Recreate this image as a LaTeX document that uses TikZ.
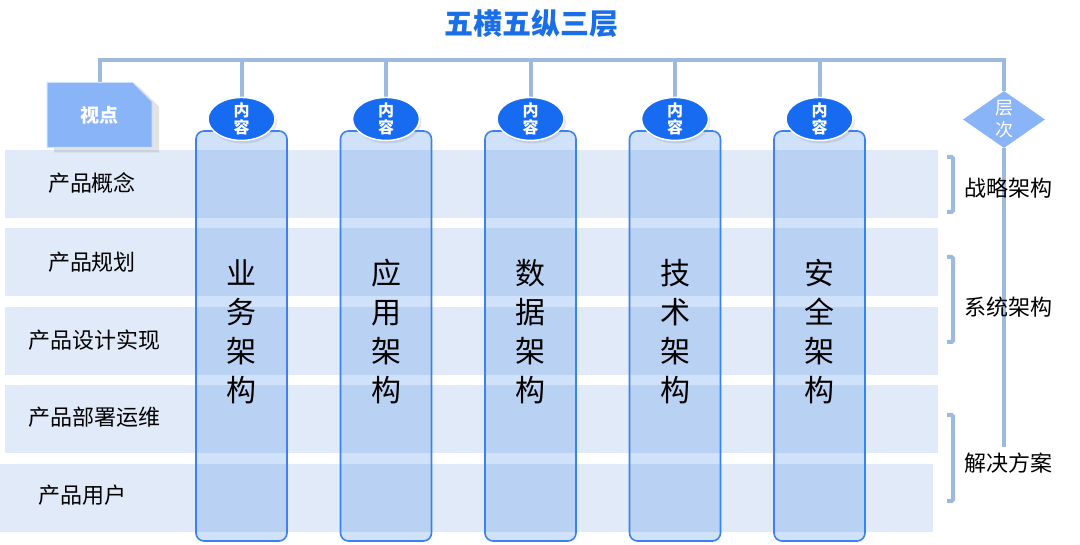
\documentclass[tikz,border=0pt]{standalone}
\usepackage{fontspec}
\setmainfont{Noto Sans CJK SC}
\usetikzlibrary{
	positioning,
	shapes.geometric,
	shapes.misc,
	shadows,
	calc,
	backgrounds
}
\definecolor{titleblue}{HTML}{1A6FE8}
\definecolor{ovalblue}{HTML}{176BF0}
\definecolor{softblue}{HTML}{8AB4F8}
\definecolor{rowblue}{HTML}{E0EAF8}
\definecolor{pillarfill}{HTML}{629BEE}
\definecolor{pillarline}{HTML}{3B82F0}
\definecolor{barblue}{HTML}{9DB9DD}

\begin{document}
\begin{tikzpicture}[x=1pt, y=-1pt,
        layer/.style={rectangle, fill=rowblue, minimum width=933pt, minimum height=68pt, inner sep=0pt},
        rowtext/.style={font=\fontsize{22}{22}\selectfont, inner sep=0pt},
        pillar/.style={rectangle, rounded corners=8pt, draw=pillarline, line width=1.6pt, fill=pillarfill, fill opacity=0.3, minimum width=91pt, minimum height=410pt, inner sep=0pt},
        pillartext/.style={align=center, font=\fontsize{30}{39}\selectfont, inner sep=0pt},
        tagoval/.style={ellipse, fill=ovalblue, draw=white, line width=1.5pt, minimum width=67pt, minimum height=43pt, inner xsep=0pt, inner ysep=-2pt, text=white, align=center, font=\fontsize{16}{17.5}\selectfont\bfseries, drop shadow={shadow xshift=2pt, shadow yshift=-3pt, opacity=0.2}},
        viewbox/.style={chamfered rectangle, chamfered rectangle corners=north east, chamfered rectangle xsep=11pt, chamfered rectangle ysep=10pt, fill=softblue, draw=white!60!softblue, line width=1pt, minimum width=105pt, minimum height=65pt, inner sep=0pt, text=white, font=\fontsize{19}{19}\selectfont\bfseries, drop shadow={shadow xshift=7pt, shadow yshift=-5pt, opacity=0.22}},
        tier/.style={diamond, fill=softblue, minimum width=82pt, minimum height=57pt, inner sep=0pt, text=white, align=center, font=\fontsize{18}{22}\selectfont},
        sidetext/.style={font=\fontsize{22}{22}\selectfont, inner sep=0pt},
        bar/.style={draw=barblue, line width=4pt},
        hook/.style={draw=barblue, line width=4pt, rounded corners=1.5pt}
    ]
        \useasboundingbox (0,0) rectangle (1080,545);

        \node[font=\fontsize{29}{29}\selectfont\bfseries, text=titleblue] (title) at (531,24) {五横五纵三层};

        % horizontal layers
        \node[layer] (r1) at (471.5,184) {};
        \node[layer, below=10pt of r1] (r2) {};
        \node[layer, below=10pt of r2] (r3) {};
        \node[layer, below=10pt of r3] (r4) {};
        \node[layer, below=10pt of r4, xshift=-5pt] (r5) {};

        \node[rowtext] (p1) at (92,183) {产品概念};
        \node[rowtext] (p2) at (92,262) {产品规划};
        \node[rowtext] (p3) at (94.5,340) {产品设计实现};
        \node[rowtext] (p4) at (94.5,417) {产品部署运维};
        \node[rowtext] (p5) at (82,495) {产品用户};

        % vertical pillars
        \node[pillar] (c1) at (241.5,336) {};
        \node[pillar] (c2) at (386,336) {};
        \node[pillar] (c3) at (530.5,336) {};
        \node[pillar] (c4) at (675,336) {};
        \node[pillar] (c5) at (819.5,336) {};

        \node[pillartext] (w1) at ([yshift=4.5pt]c1.center) {业\\务\\架\\构};
        \node[pillartext] (w2) at ([yshift=4.5pt]c2.center) {应\\用\\架\\构};
        \node[pillartext] (w3) at ([yshift=4.5pt]c3.center) {数\\据\\架\\构};
        \node[pillartext] (w4) at ([yshift=4.5pt]c4.center) {技\\术\\架\\构};
        \node[pillartext] (w5) at ([yshift=4.5pt]c5.center) {安\\全\\架\\构};

        \node[tagoval, above=-11pt of c1.north] (o1) {内\\容};
        \node[tagoval, above=-11pt of c2.north] (o2) {内\\容};
        \node[tagoval, above=-11pt of c3.north] (o3) {内\\容};
        \node[tagoval, above=-11pt of c4.north] (o4) {内\\容};
        \node[tagoval, above=-11pt of c5.north] (o5) {内\\容};

        \node[viewbox] (vp) at (99.5,115) {视点};
        \node[tier] (lv) at (1004,119.5) {层\\次};

        % levels on the right
        \node[sidetext] (s1) at (1008,188) {战略架构};
        \node[sidetext] (s2) at (1008,307) {系统架构};
        \node[sidetext] (s3) at (1008,463) {解决方案};

        \draw[hook] (947,157) -- (953,157) -- (953,212) -- (947,212);
        \draw[hook] (947,257) -- (953,257) -- (953,342) -- (947,342);
        \draw[hook] (947,415) -- (953,415) -- (953,501) -- (947,501);

        \begin{scope}[on background layer]
            \coordinate (top) at (0,60);
            \coordinate (tail) at (1004,447);
            \draw[bar] (vp.north) |- (top -| lv.north) -- (lv.north);
            \draw[bar] (o1.north) -- (o1.north |- top);
            \draw[bar] (o2.north) -- (o2.north |- top);
            \draw[bar] (o3.north) -- (o3.north |- top);
            \draw[bar] (o4.north) -- (o4.north |- top);
            \draw[bar] (o5.north) -- (o5.north |- top);
            \draw[bar] (lv.south) -- (tail);
        \end{scope}
    \end{tikzpicture}
\end{document}
